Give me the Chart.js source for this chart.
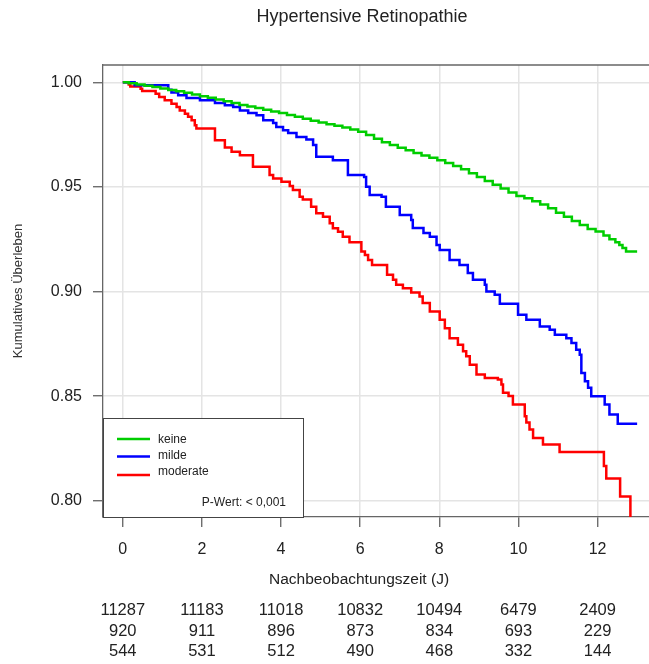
<!DOCTYPE html>
<html><head><meta charset="utf-8">
<script src="https://cdn.jsdelivr.net/npm/chart.js@4.4.1/dist/chart.umd.min.js"></script>
<style>html,body{margin:0;padding:0;background:#fff;overflow:hidden}canvas{display:block}</style>
</head><body>
<canvas id="c" width="649" height="664"></canvas>
<script>
const FONT = "'Liberation Sans', Arial, sans-serif";
const chartTitle = 'Hypertensive Retinopathie';
const xTitle = 'Nachbeobachtungszeit (J)';
const yTitle = 'Kumulatives Überleben';
const seriesLabels = ['keine', 'milde', 'moderate'];
const seriesColors = ['#00cd00', '#0000ff', '#ff0000'];
const xTicks = [0, 2, 4, 6, 8, 10, 12];
const yTicks = [0.80, 0.85, 0.90, 0.95, 1.00];
const pValueText = 'P-Wert: < 0,001';

const keineT = [0, 0.15, 0.35, 0.55, 0.75, 0.95, 1.15, 1.35, 1.55, 1.75, 1.95, 2.15, 2.35, 2.55, 2.75, 2.95, 3.15, 3.35, 3.55, 3.75, 3.95, 4.15, 4.35, 4.55, 4.75, 4.95, 5.15, 5.35, 5.55, 5.75, 5.95, 6.15, 6.35, 6.55, 6.75, 6.95, 7.15, 7.35, 7.55, 7.75, 7.95, 8.15, 8.35, 8.55, 8.75, 8.95, 9.15, 9.35, 9.55, 9.75, 9.95, 10.15, 10.35, 10.55, 10.75, 10.95, 11.15, 11.35, 11.55, 11.75, 11.95, 12.15, 12.30, 12.45, 12.55, 12.63, 12.72, 13.0];
const keineS = [1.0, 0.9996, 0.9990, 0.9984, 0.9978, 0.9971, 0.9964, 0.9957, 0.9950, 0.9942, 0.9934, 0.9926, 0.9918, 0.9910, 0.9901, 0.9892, 0.9884, 0.9877, 0.9869, 0.9861, 0.9853, 0.9844, 0.9836, 0.9826, 0.9817, 0.9808, 0.9800, 0.9792, 0.9784, 0.9775, 0.9764, 0.9748, 0.9731, 0.9714, 0.9701, 0.9687, 0.9675, 0.9662, 0.9650, 0.9640, 0.9628, 0.9614, 0.9600, 0.9584, 0.9565, 0.9547, 0.9529, 0.9511, 0.9492, 0.9473, 0.9457, 0.9446, 0.9432, 0.9416, 0.9398, 0.9377, 0.9357, 0.9337, 0.9318, 0.9299, 0.9287, 0.9268, 0.9250, 0.9236, 0.9222, 0.9208, 0.9191, 0.9191];

const mildeT = [0, 0.30, 1.15, 1.23, 1.40, 1.61, 1.95, 2.33, 2.58, 2.79, 2.96, 3.17, 3.38, 3.55, 3.80, 3.88, 4.05, 4.18, 4.39, 4.64, 4.81, 4.89, 5.31, 5.69, 6.10, 6.15, 6.24, 6.54, 6.65, 7.0, 7.29, 7.33, 7.6, 7.76, 7.93, 8.01, 8.26, 8.51, 8.72, 8.85, 9.15, 9.19, 9.40, 9.53, 9.99, 10.20, 10.54, 10.79, 10.92, 11.21, 11.34, 11.46, 11.55, 11.59, 11.68, 11.76, 11.84, 12.18, 12.30, 12.51, 13.0];
const mildeS = [1.0, 0.9986, 0.9965, 0.9951, 0.9938, 0.9925, 0.9914, 0.9901, 0.9890, 0.9882, 0.9866, 0.9854, 0.9843, 0.9819, 0.9806, 0.9787, 0.9771, 0.9758, 0.9739, 0.9727, 0.9700, 0.9644, 0.9628, 0.9557, 0.9548, 0.9501, 0.9461, 0.9453, 0.9405, 0.9366, 0.9342, 0.9304, 0.9280, 0.9262, 0.9223, 0.9199, 0.9151, 0.9127, 0.9088, 0.9056, 0.9032, 0.9000, 0.8984, 0.8941, 0.8889, 0.8865, 0.8833, 0.8817, 0.8793, 0.8777, 0.8754, 0.8722, 0.8698, 0.8611, 0.8571, 0.8540, 0.8499, 0.8460, 0.8412, 0.8368, 0.8368];

const moderateT = [0, 0.15, 0.19, 0.45, 0.49, 0.83, 0.92, 1.06, 1.23, 1.36, 1.44, 1.57, 1.65, 1.74, 1.82, 1.86, 2.33, 2.58, 2.75, 2.96, 3.29, 3.71, 3.80, 4.01, 4.22, 4.30, 4.47, 4.55, 4.76, 4.89, 5.06, 5.23, 5.31, 5.44, 5.56, 5.73, 6.03, 6.12, 6.20, 6.30, 6.68, 6.83, 6.91, 7.08, 7.29, 7.50, 7.58, 7.76, 8.01, 8.14, 8.26, 8.47, 8.60, 8.68, 8.77, 8.94, 9.15, 9.48, 9.57, 9.61, 9.75, 9.86, 10.16, 10.20, 10.28, 10.37, 10.62, 11.04, 12.16, 12.22, 12.57, 12.83];
const moderateS = [1.0, 0.9990, 0.9980, 0.9970, 0.9959, 0.9946, 0.9930, 0.9914, 0.9898, 0.9882, 0.9866, 0.9850, 0.9835, 0.9819, 0.9795, 0.9779, 0.9723, 0.9689, 0.9668, 0.9652, 0.9596, 0.9557, 0.9540, 0.9525, 0.9504, 0.9485, 0.9453, 0.9440, 0.9405, 0.9374, 0.9358, 0.9326, 0.9302, 0.9286, 0.9262, 0.9235, 0.9191, 0.9175, 0.9151, 0.9127, 0.9080, 0.9056, 0.9032, 0.9016, 0.8995, 0.8976, 0.8945, 0.8905, 0.8865, 0.8825, 0.8777, 0.8746, 0.8714, 0.8690, 0.8650, 0.8603, 0.8587, 0.8579, 0.8555, 0.8516, 0.8500, 0.8460, 0.8404, 0.8374, 0.8340, 0.8300, 0.8269, 0.8233, 0.8166, 0.8106, 0.8020, 0.7800];

const riskKeine = [11287, 11183, 11018, 10832, 10494, 6479, 2409];
const riskMilde = [920, 911, 896, 873, 834, 693, 229];
const riskModerate = [544, 531, 512, 490, 468, 332, 144];
const riskRows = [riskKeine, riskMilde, riskModerate];

const pts = (t, s) => t.map((v, i) => ({x: v, y: s[i]}));
const seriesData = [pts(keineT, keineS), pts(mildeT, mildeS), pts(moderateT, moderateS)];

const overlay = {
  id: 'overlay',
  afterDraw(chart) {
    const {ctx, chartArea: a, scales: {x}} = chart;
    ctx.save();
    // top frame line
    ctx.strokeStyle = '#666'; ctx.lineWidth = 1.3;
    ctx.beginPath(); ctx.moveTo(a.left, a.top); ctx.lineTo(a.right + 2, a.top); ctx.stroke();
    // legend box
    const bx = a.left, by = 418, bw = 200, bh = a.bottom - 418;
    ctx.fillStyle = '#fff'; ctx.fillRect(bx, by, bw, bh);
    ctx.strokeStyle = '#444'; ctx.lineWidth = 1;
    ctx.strokeRect(bx + 0.5, by + 0.5, bw, bh);
    const rowsY = [439, 456.5, 475];
    const txtY = [440, 456, 472];
    ctx.font = '12px ' + FONT; ctx.textBaseline = 'middle'; ctx.textAlign = 'left';
    seriesLabels.forEach((lab, i) => {
      ctx.strokeStyle = seriesColors[i]; ctx.lineWidth = 2.5;
      ctx.beginPath(); ctx.moveTo(bx + 14, rowsY[i]); ctx.lineTo(bx + 47, rowsY[i]); ctx.stroke();
      ctx.fillStyle = '#222'; ctx.fillText(lab, bx + 55, txtY[i]);
    });
    ctx.textAlign = 'right';
    ctx.fillText(pValueText, bx + 183, 503);
    // x axis title
    ctx.textAlign = 'center'; ctx.fillStyle = '#222';
    ctx.font = '15.5px ' + FONT;
    ctx.fillText(xTitle, 359, 580);
    // risk table
    ctx.font = '16.5px ' + FONT;
    const rowY = [610.5, 631, 651];
    riskRows.forEach((row, r) => {
      row.forEach((n, i) => {
        ctx.fillText(String(n), x.getPixelForValue(xTicks[i]), rowY[r]);
      });
    });
    ctx.restore();
  }
};

new Chart(document.getElementById('c'), {
  type: 'line',
  data: {
    datasets: seriesLabels.map((lab, i) => ({
      label: lab,
      data: seriesData[i],
      borderColor: seriesColors[i],
      borderWidth: 2.5,
      pointRadius: 0,
      stepped: true,
      fill: false
    }))
  },
  options: {
    responsive: false,
    animation: false,
    layout: {padding: {left: 0, top: 0, right: -75, bottom: 0}},
    plugins: {
      legend: {display: false},
      tooltip: {enabled: false},
      title: {
        display: true, text: chartTitle, color: '#222',
        font: {family: FONT, size: 18, weight: 'normal'},
        padding: {top: 6, bottom: 37.4}
      }
    },
    scales: {
      x: {
        type: 'linear', min: -0.5, max: 13.3,
        afterBuildTicks: s => { s.ticks = xTicks.map(v => ({value: v})); },
        afterFit: s => { s.height = 147; },
        ticks: {color: '#222', font: {family: FONT, size: 16}, padding: 13, maxRotation: 0, autoSkip: false},
        grid: {color: '#e4e4e4', lineWidth: 1.5, tickColor: '#555', tickLength: 10, tickWidth: 1.2},
        border: {display: true, color: '#666', width: 1.3},
        title: {display: false}
      },
      y: {
        type: 'linear', min: 0.7922, max: 1.0083,
        afterBuildTicks: s => { s.ticks = yTicks.map(v => ({value: v})); },
        afterFit: s => { s.width = 103; },
        ticks: {color: '#222', font: {family: FONT, size: 16}, padding: 11, callback: v => v.toFixed(2)},
        grid: {color: '#e4e4e4', lineWidth: 1.5, tickColor: '#555', tickLength: 10, tickWidth: 1.2},
        border: {display: true, color: '#666', width: 1.3},
        title: {display: true, text: yTitle, color: '#333', font: {family: FONT, size: 13}, padding: {top: 10.2, bottom: 0}}
      }
    }
  },
  plugins: [overlay]
});
</script>
</body></html>
